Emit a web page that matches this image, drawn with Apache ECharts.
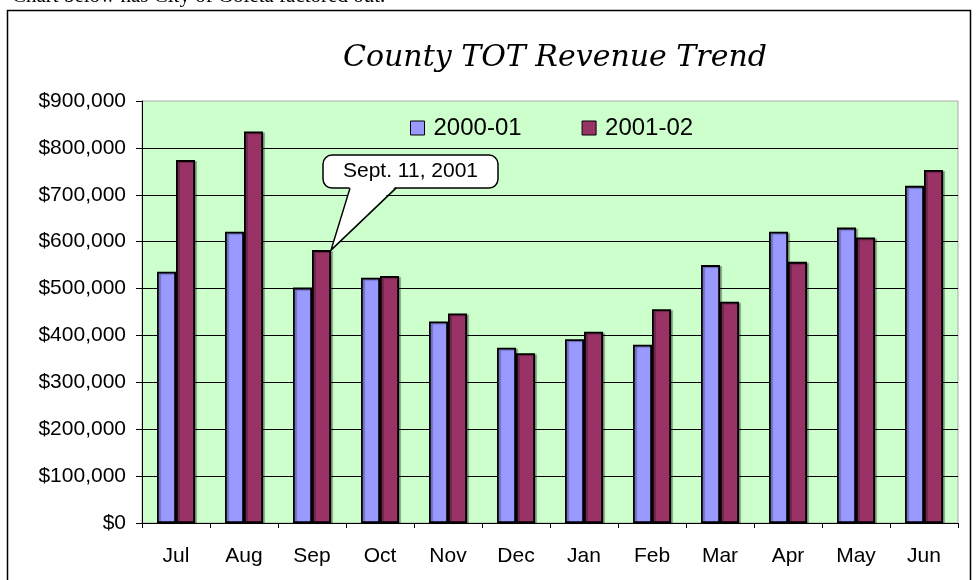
<!DOCTYPE html>
<html lang="en">

<head>
  <meta charset="UTF-8">
  <title>County TOT Revenue Trend</title>
  <script src="https://cdn.jsdelivr.net/npm/echarts@6.0.0/dist/echarts.min.js"></script>
  <style>
    body { margin: 0; background: #fff; }
  </style>
</head>
<body>
  <div id="main" style="width: 976px;height:580px"></div>
  <script>
    var months = ['Jul', 'Aug', 'Sep', 'Oct', 'Nov', 'Dec', 'Jan', 'Feb', 'Mar', 'Apr', 'May', 'Jun']
    var fy2000 = [536000, 621000, 502000, 523000, 430000, 374000, 392000, 380000, 550000, 621000, 630000, 719000]
    var fy2001 = [774000, 835000, 582000, 527000, 447000, 362000, 408000, 456000, 472000, 557000, 609000, 753000]
    var seriesNames = ['2000-01', '2001-02']
    var yTicks = [0, 100000, 200000, 300000, 400000, 500000, 600000, 700000, 800000, 900000]
    var note = { month: 'Sep', text: 'Sept. 11, 2001' }

    var barW = 19
    var mCharts = echarts.init(document.getElementById('main'))

    function money(v) {
      return '$' + v.toString().replace(/\B(?=(\d{3})+(?!\d))/g, ',')
    }

    var barStyle = function (color) {
      return {
        color: color,
        borderColor: '#000',
        borderWidth: 1.8,
        shadowColor: 'rgba(0,0,0,0.3)',
        shadowOffsetX: 2,
        shadowOffsetY: 1,
        shadowBlur: 1
      }
    }

    var option = {
      backgroundColor: '#fff',
      animation: false,
      title: {
        text: 'County TOT Revenue Trend',
        left: 550,
        textAlign: 'center',
        top: 38,
        textStyle: {
          fontFamily: 'DejaVu Serif',
          fontStyle: 'italic',
          fontWeight: 'normal',
          fontSize: 30,
          color: '#000'
        }
      },
      legend: {
        data: seriesNames,
        left: 405,
        top: 111,
        icon: 'rect',
        itemWidth: 14,
        itemHeight: 14,
        itemGap: 60,
        itemStyle: { borderColor: '#000', borderWidth: 1, shadowColor: 'transparent' },
        textStyle: {
          fontFamily: 'Liberation Sans',
          fontSize: 24,
          color: '#000',
          padding: [0, 0, 0, 4]
        }
      },
      grid: {
        left: 142,
        right: 18,
        top: 101,
        bottom: 57,
        show: true,
        backgroundColor: '#CCFFCC',
        borderColor: '#aaa',
        borderWidth: 1
      },
      xAxis: {
        type: 'category',
        data: months,
        axisLine: { lineStyle: { color: '#000', width: 1 } },
        axisTick: { show: true, length: 5, lineStyle: { color: '#000' } },
        axisLabel: {
          margin: 23,
          fontFamily: 'Liberation Sans',
          fontSize: 21,
          color: '#000'
        }
      },
      yAxis: {
        type: 'value',
        min: yTicks[0],
        max: yTicks[yTicks.length - 1],
        interval: yTicks[1] - yTicks[0],
        axisLine: { show: true, lineStyle: { color: '#000', width: 1 } },
        axisTick: { show: true, length: 6, lineStyle: { color: '#000' } },
        axisLabel: {
          margin: 16,
          fontFamily: 'Liberation Sans',
          fontSize: 21,
          color: '#000',
          formatter: money
        },
        splitLine: { show: true, showMaxLine: false, lineStyle: { color: '#000', width: 1 } }
      },
      series: [
        {
          name: seriesNames[0],
          type: 'bar',
          data: fy2000,
          barWidth: barW,
          barGap: '0%',
          itemStyle: barStyle('#9999FF')
        },
        {
          name: seriesNames[1],
          type: 'bar',
          data: fy2001,
          barWidth: barW,
          barGap: '0%',
          itemStyle: barStyle('#993366')
        }
      ]
    }
    mCharts.setOption(option)

    // callout pointing at the top right corner of the 2001-02 Sep bar
    var idx = months.indexOf(note.month)
    var p = mCharts.convertToPixel({ xAxisIndex: 0, yAxisIndex: 0 }, [note.month, fy2001[idx]])
    var ax = p[0] + barW, ay = p[1]
    var l = ax - 8, r = ax + 167, t = ay - 95, b = ay - 62
    var tl = ax + 19, tr = ax + 65

    mCharts.setOption({
      graphic: [
        {
          type: 'rect',
          shape: { x: 7.5, y: 10.5, width: 963, height: 600 },
          style: { fill: 'none', stroke: '#000', lineWidth: 1.5 },
          silent: true
        },
        {
          type: 'text',
          x: 12,
          y: 7,
          style: {
            text: 'Chart below has City of Goleta factored out.',
            fontFamily: 'Liberation Serif',
            fontSize: 21,
            fill: '#000',
            verticalAlign: 'bottom'
          }
        },
        {
          type: 'rect',
          shape: { x: l, y: t, width: r - l, height: b - t, r: 9 },
          style: { fill: '#fff', stroke: '#000', lineWidth: 1.5 },
          z: 100
        },
        {
          type: 'polygon',
          shape: { points: [[tl, b - 2], [tr, b - 2], [ax, ay]] },
          style: { fill: '#fff' },
          z: 101
        },
        {
          type: 'polyline',
          shape: { points: [[tl, b], [ax, ay], [tr, b]] },
          style: { stroke: '#000', lineWidth: 1.5, fill: null },
          z: 102
        },
        {
          type: 'text',
          x: (l + r) / 2,
          y: (t + b) / 2,
          style: {
            text: note.text,
            fontFamily: 'Liberation Sans',
            fontSize: 21,
            fill: '#000',
            align: 'center',
            verticalAlign: 'middle'
          },
          z: 103
        }
      ]
    })
  </script>
</body>

</html>
